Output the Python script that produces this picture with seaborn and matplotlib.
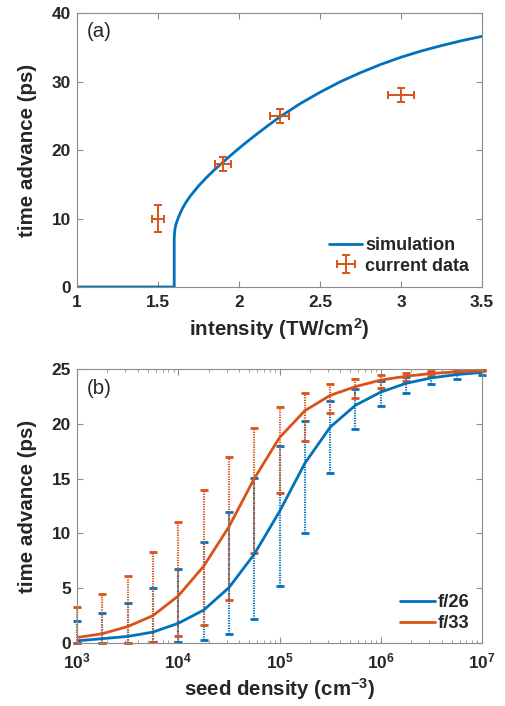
import numpy as np
import pandas as pd
import matplotlib
matplotlib.use('Agg')
import matplotlib.pyplot as plt
import seaborn as sns

# ---- data ----
# (a) simulation curve
sim_x = [1.0, 1.6, 1.6, 1.602, 1.605, 1.61, 1.62, 1.635, 1.65, 1.675, 1.7, 1.75,
         1.8, 1.85, 1.9, 1.95, 2.0, 2.05, 2.1, 2.175, 2.25, 2.375, 2.5, 2.625,
         2.75, 2.875, 3.0, 3.125, 3.25, 3.375, 3.5]
sim_y = [0.0, 0.0, 7.1, 7.9, 8.5, 9.1, 9.8, 10.65, 11.45, 12.45, 13.3, 14.75,
         16.0, 17.15, 18.2, 19.25, 20.25, 21.22, 22.15, 23.5, 24.8, 26.74, 28.43, 29.97,
         31.3, 32.5, 33.55, 34.46, 35.25, 35.97, 36.6]
# (a) measured points
meas_x = [1.5, 1.9, 2.25, 3.0]
meas_y = [10, 18, 25, 28]
meas_xerr = [0.04, 0.05, 0.06, 0.08]
meas_yerr = [2, 1, 1, 1]

# (b) seed density scan
density = [1e3, 1.778e3, 3.162e3, 5.623e3, 1e4, 1.778e4, 3.162e4, 5.623e4, 1e5,
           1.778e5, 3.162e5, 5.623e5, 1e6, 1.778e6, 3.162e6, 5.623e6, 1e7]
f26_mean = [0.2, 0.4, 0.6, 1.0, 1.8, 3.0, 5.05, 8.1, 12.0, 16.4, 19.7, 21.7, 22.9,
            23.7, 24.2, 24.5, 24.7]
f26_top = [2.0, 2.7, 3.65, 5.0, 6.8, 9.2, 12.0, 15.1, 18.0, 20.3, 22.1, 23.2, 23.9,
           24.3, 24.6, 24.7, 24.9]
f26_bot = [0.0, 0.0, 0.0, 0.1, 0.1, 0.3, 0.8, 2.2, 5.2, 10.0, 15.5, 19.5, 21.6,
           22.8, 23.6, 24.1, 24.5]
f33_mean = [0.5, 0.85, 1.5, 2.5, 4.3, 7.0, 10.6, 15.0, 18.75, 21.2, 22.6, 23.4, 24.0,
            24.35, 24.6, 24.75, 24.85]
f33_top = [3.3, 4.5, 6.1, 8.3, 11.0, 14.0, 17.0, 19.6, 21.55, 22.85, 23.6, 24.1, 24.5,
           24.65, 24.8, 24.9, 24.95]
f33_bot = [0.0, 0.0, 0.0, 0.1, 0.6, 1.6, 3.9, 8.2, 13.7, 18.4, 21.0, 22.4, 23.3,
           23.9, 24.4, 24.7, 24.8]

blue = '#0072BD'
orange = '#D95319'
txt = '#262626'

sns.set_style('ticks')
plt.rcParams['font.family'] = ['Liberation Sans', 'DejaVu Sans']
plt.rcParams['mathtext.fontset'] = 'custom'
plt.rcParams['mathtext.rm'] = 'Liberation Sans:bold'
plt.rcParams['mathtext.bf'] = 'Liberation Sans:bold'
plt.rcParams['mathtext.it'] = 'Liberation Sans:bold'
plt.rcParams['mathtext.default'] = 'bf'

fig = plt.figure(figsize=(5.05, 7.06), dpi=100)
ax1 = fig.add_axes([0.1525, 0.5935, 0.802, 0.388])
ax2 = fig.add_axes([0.1525, 0.0892, 0.802, 0.388])

# ---- (a) ----
sim = pd.DataFrame({'x': sim_x, 'y': sim_y})
sns.lineplot(data=sim, x='x', y='y', estimator=None, sort=False, color=blue,
             linewidth=2, ax=ax1, label='simulation')
ax1.errorbar(meas_x, meas_y, xerr=meas_xerr, yerr=meas_yerr, fmt='none',
             ecolor=orange, elinewidth=1.4, capsize=2.6, capthick=1.4,
             label='current data')
ax1.set_xlim(1, 3.5)
ax1.set_ylim(0, 40)
ax1.set_xticks([1, 1.5, 2, 2.5, 3, 3.5])
ax1.set_xticklabels(['1', '1.5', '2', '2.5', '3', '3.5'])
ax1.set_yticks([0, 10, 20, 30, 40])
ax1.set_xlabel('intensity (TW/cm$^{2}$)', fontsize=14.8, fontweight='bold')
ax1.set_ylabel('time advance (ps)', fontsize=14.8, fontweight='bold')
ax1.xaxis.set_label_coords(0.5, -0.105)
ax1.text(0.025, 0.968, '(a)', transform=ax1.transAxes, fontsize=14.7, va='top',
         color=txt)
ax1.legend(loc='lower right', frameon=False, prop={'weight': 'bold', 'size': 13},
           handlelength=1.85, handletextpad=0.15, labelspacing=0.2,
           borderpad=0, borderaxespad=0, bbox_to_anchor=(0.968, 0.045))

# ---- (b) ----
for top, bot, mean, col in [(f26_top, f26_bot, f26_mean, blue),
                            (f33_top, f33_bot, f33_mean, orange)]:
    lo = np.array(mean) - np.array(bot)
    hi = np.array(top) - np.array(mean)
    eb = ax2.errorbar(density, mean, yerr=[lo, hi], fmt='none', ecolor=col,
                      elinewidth=1.5, capsize=2.8, capthick=2.0)
    eb[2][0].set_linestyle((0, (0.6, 0.6)))
    for c in eb[1]:
        c.set_clip_on(False)
    eb[2][0].set_clip_on(False)

scan = pd.DataFrame({'density': density * 2,
                     'time': f26_mean + f33_mean,
                     'case': ['f/26'] * len(density) + ['f/33'] * len(density)})
sns.lineplot(data=scan, x='density', y='time', hue='case',
             palette={'f/26': blue, 'f/33': orange}, linewidth=2, ax=ax2)
ax2.set_xscale('log')
ax2.set_xlim(1e3, 1e7)
ax2.set_ylim(0, 25)
ax2.set_xticks([1e3, 1e4, 1e5, 1e6, 1e7])
ax2.set_xticklabels(['$10^{3}$', '$10^{4}$', '$10^{5}$', '$10^{6}$', '$10^{7}$'])
ax2.set_yticks([0, 5, 10, 15, 20, 25])
ax2.set_xlabel('seed density (cm$^{-3}$)', fontsize=14.8, fontweight='bold')
ax2.set_ylabel('time advance (ps)', fontsize=14.8, fontweight='bold')
ax2.xaxis.set_label_coords(0.5, -0.12)
ax2.text(0.025, 0.965, '(b)', transform=ax2.transAxes, fontsize=14.7, va='top',
         color=txt)
ax2.legend(loc='lower right', frameon=False, prop={'weight': 'bold', 'size': 13.2},
           handlelength=1.95, handletextpad=0.1, labelspacing=0.2,
           borderpad=0, borderaxespad=0, bbox_to_anchor=(0.968, 0.04), title=None)

for ax in (ax1, ax2):
    for s in ax.spines.values():
        s.set_color('0.55')
        s.set_linewidth(0.8)
        s.set_visible(True)
    ax.tick_params(which='both', direction='in', top=True, right=True,
                   color='0.55', labelsize=12.4, labelcolor=txt)
    ax.tick_params(axis='x', which='major', pad=6)
    ax.tick_params(axis='y', which='major', pad=4.5)
    ax.tick_params(which='major', length=4)
    ax.tick_params(which='minor', length=2.5)
    for lab in ax.get_xticklabels() + ax.get_yticklabels():
        lab.set_fontweight('bold')
    ax.yaxis.set_label_coords(-0.099, 0.5)
    ax.xaxis.label.set_color(txt)
    ax.yaxis.label.set_color(txt)

fig.savefig('out.png', dpi=100)
